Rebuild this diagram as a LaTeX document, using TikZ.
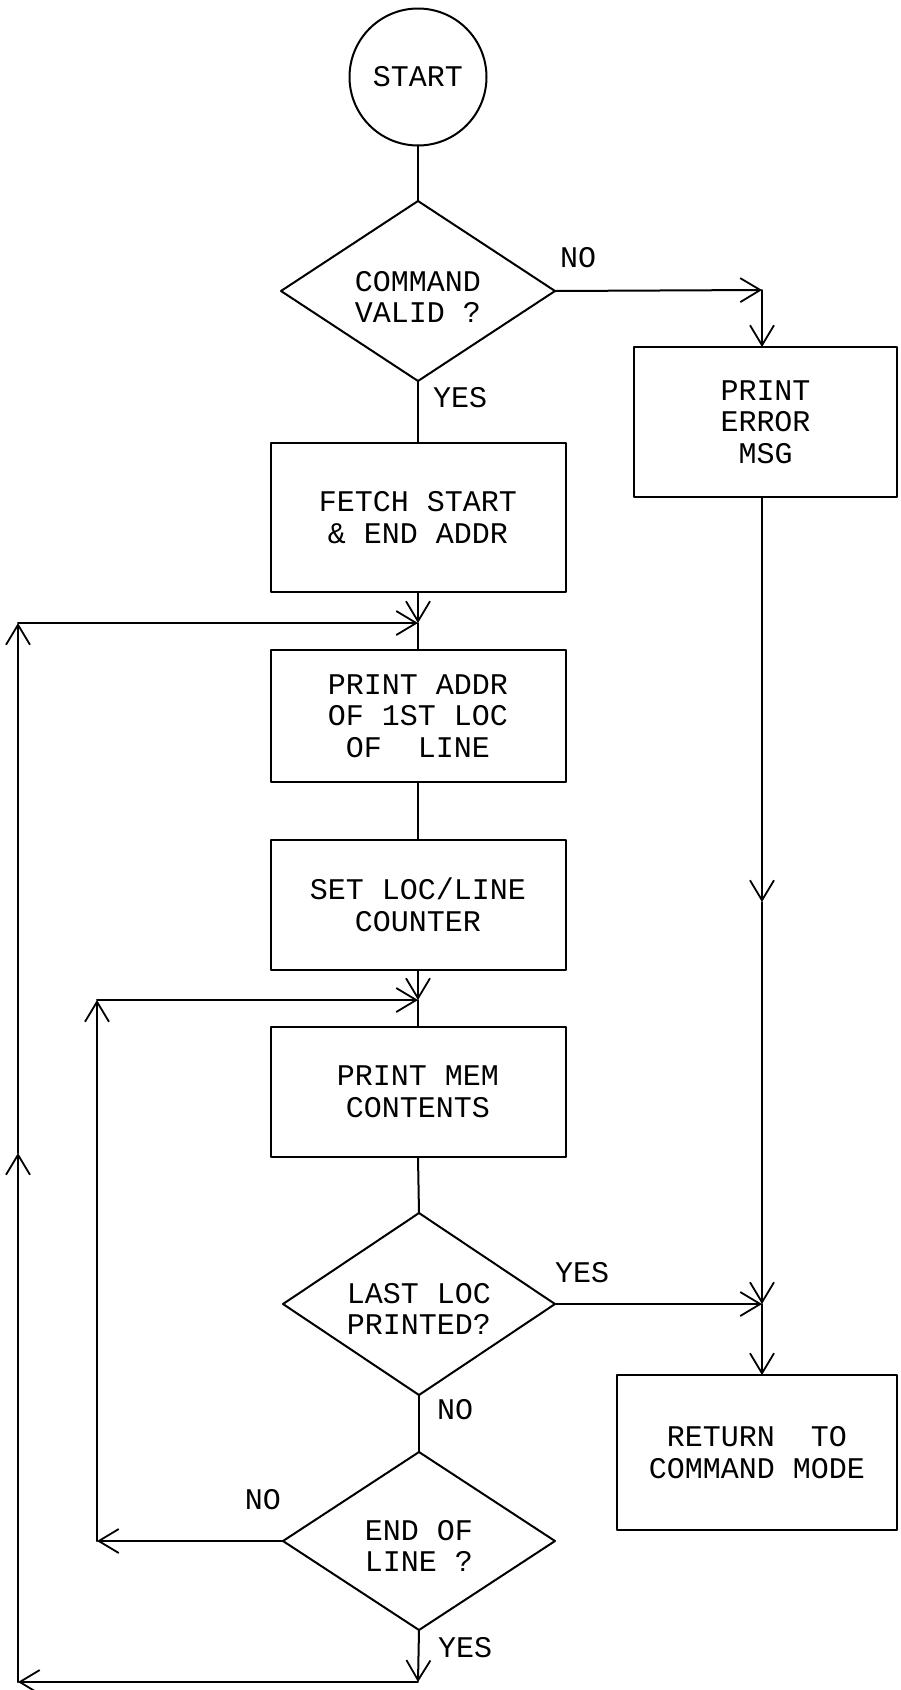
\documentclass[tikz,border=0pt]{standalone}
\usepackage{fontspec}
\setmonofont{Liberation Mono}
\usetikzlibrary{shapes.geometric,arrows.meta}

\begin{document}
\begin{tikzpicture}[x=1pt,y=-1pt,
  line width=2pt, line cap=round, line join=round,
  every node/.style={outer sep=0pt},
  txt/.style={font=\ttfamily\fontsize{30}{31.5}\selectfont, align=center, inner sep=0pt},
  procbox/.style={draw, rectangle, minimum width=295pt, minimum height=#1, txt},
  decision/.style={draw, diamond, inner sep=0pt, minimum width=#1},
  terminal/.style={draw, circle, minimum size=137pt, txt},
  flow/.style={-{Straight Barb[length=20pt,width=24pt,line width=1.8pt]}}
]
% page area
\fill[white] (0,0) rectangle (900,1690);
\useasboundingbox (0,0) rectangle (900,1690);

% main column
\node[terminal] (start) at (418,77) {START};
\node[decision=274pt, minimum height=180pt] (cmd) at (418,291) {};
\node[txt] (cmdtext) at (418,297) {COMMAND\\VALID ?};
\node[procbox=149pt] (fetch) at (418,517.5) {FETCH START\\\& END ADDR};
\node[procbox=132pt] (addr) at (418,716) {PRINT ADDR\\OF 1ST LOC\\OF~~LINE};
\node[procbox=130pt] (setloc) at (418,905) {SET LOC/LINE\\COUNTER};
\node[procbox=130pt] (mem) at (418,1092) {PRINT MEM\\CONTENTS};
\node[decision=272pt, minimum height=182pt] (last) at (419,1304) {};
\node[txt] (lasttext) at (419,1309) {LAST LOC\\PRINTED?};
\node[decision=272pt, minimum height=178pt] (eol) at (419,1541) {};
\node[txt] (eoltext) at (419,1546) {END OF\\LINE ?};

% right column
\node[draw, rectangle, minimum width=263pt, minimum height=150pt, txt] (err) at (765.5,422) {PRINT\\ERROR\\MSG};
\node[draw, rectangle, minimum width=280pt, minimum height=155pt, txt] (ret) at (757,1452.5) {RETURN~~TO\\COMMAND MODE};

% branch labels
\node[txt] (cmdno) at (578,258) {NO};
\node[txt] (cmdyes) at (460,398) {YES};
\node[txt] (lastyes) at (582,1273) {YES};
\node[txt] (lastno) at (455,1410) {NO};
\node[txt] (eolno) at (263,1500) {NO};
\node[txt] (eolyes) at (465,1648) {YES};

% bend and junction points
\coordinate (errcorner) at (762,290);
\coordinate (j1) at (418,623);
\coordinate (j2) at (418,1000);
\coordinate (j3) at (last.east -| errcorner);
\coordinate (errmid) at (762,902);
\coordinate (innertop) at (97,1000);
\coordinate (eolcorner) at (eol.west -| innertop);
\coordinate (botright) at (418,1682);
\coordinate (botleft) at (18,1682);
\coordinate (outermid) at (18,1153);
\coordinate (outertop) at (18,623);

% connectors
\draw (start.south) -- (cmd.north);
\draw[flow] (cmd.east) -- (errcorner);
\draw[flow] (errcorner) -- (err.north -| errcorner);
\draw (cmd.south) -- (fetch.north);
\draw[flow] (fetch.south) -- (j1);
\draw (j1) -- (addr.north);
\draw (addr.south) -- (setloc.north);
\draw[flow] (setloc.south) -- (j2);
\draw (j2) -- (mem.north);
\draw (mem.south) -- (last.north);
\draw[flow] (last.east) -- (j3);
\draw[flow] (err.south -| errcorner) -- (errmid);
\draw[flow] (errmid) -- (j3);
\draw[flow] (j3) -- (ret.north -| j3);
\draw (last.south) -- (eol.north);
\draw[flow] (eol.west) -- (eolcorner);
\draw[flow] (eolcorner) -- (innertop);
\draw[flow] (innertop) -- (j2);
\draw[flow] (eol.south) -- (botright);
\draw[flow] (botright) -- (botleft);
\draw[flow] (botleft) -- (outermid);
\draw[flow] (outermid) -- (outertop);
\draw[flow] (outertop) -- (j1);
\end{tikzpicture}
\end{document}
